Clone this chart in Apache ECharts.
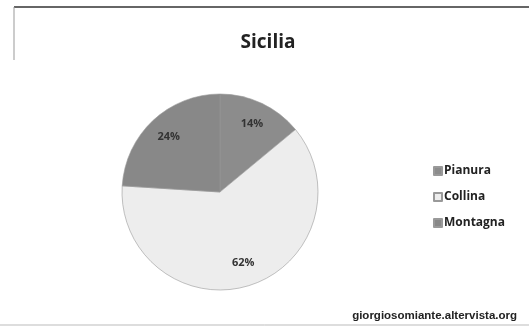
<!DOCTYPE html>
<html>
<head>
<meta charset="utf-8">
<script src="https://cdn.jsdelivr.net/npm/echarts@6/dist/echarts.min.js"></script>
<style>
  html, body { margin: 0; padding: 0; background: #fff; }
  #chart { width: 529px; height: 327px; }
</style>
</head>
<body>
<div id="chart"></div>
<script>
// dati
const categories = ['Pianura', 'Collina', 'Montagna'];
const values = [14, 62, 24];
const colors = ['#8c8c8c', '#ededed', '#888888'];

const chart = echarts.init(document.getElementById('chart'));
const pieData = categories.map((c, i) => ({ name: c, value: values[i], itemStyle: { color: colors[i] } }));

chart.setOption({
  backgroundColor: '#fff',
  animation: false,
  title: {
    text: 'Sicilia',
    left: 263,
    top: 28,
    textAlign: 'center',
    textStyle: { fontFamily: 'Open Sans', fontSize: 19, fontWeight: 'bold', color: '#222' }
  },
  legend: {
    orient: 'vertical',
    left: 428,
    top: 160,
    itemWidth: 8,
    itemHeight: 8,
    itemGap: 14,
    icon: 'rect',
    data: categories,
    textStyle: { fontFamily: 'Open Sans', fontSize: 12, fontWeight: 'bold', color: '#222', padding: [0, 0, 0, -3] }
  },
  graphic: [
    { type: 'line', shape: { x1: 14, y1: 7, x2: 529, y2: 7 }, style: { stroke: '#333', lineWidth: 1.5 } },
    { type: 'line', shape: { x1: 14, y1: 7, x2: 14, y2: 60 }, style: { stroke: '#999', lineWidth: 1 } },
    { type: 'line', shape: { x1: 0, y1: 325, x2: 529, y2: 325 }, style: { stroke: '#bbb', lineWidth: 1 } },
    {
      type: 'text', right: 12, top: 310,
      style: { text: 'giorgiosomiante.altervista.org', font: 'bold 11.5px "Liberation Sans"', fill: '#222' }
    }
  ],
  series: [{
    type: 'pie',
    center: [220, 192],
    radius: 98,
    startAngle: 90,
    clockwise: true,
    label: { show: false },
    labelLine: { show: false },
    itemStyle: { borderColor: '#999', borderWidth: 0.6 },
    data: pieData
  }, {
    // anello trasparente per posizionare le etichette più all'esterno
    type: 'pie',
    center: [220, 192],
    radius: [46, 98],
    startAngle: 90,
    clockwise: true,
    silent: true,
    label: {
      position: 'inside',
      formatter: '{d}%',
      fontFamily: 'Open Sans',
      fontSize: 11,
      fontWeight: 'bold',
      color: '#333'
    },
    labelLine: { show: false },
    itemStyle: { color: 'transparent', borderWidth: 0 },
    data: categories.map((c, i) => ({ name: c, value: values[i] }))
  }]
});
</script>
</body>
</html>
